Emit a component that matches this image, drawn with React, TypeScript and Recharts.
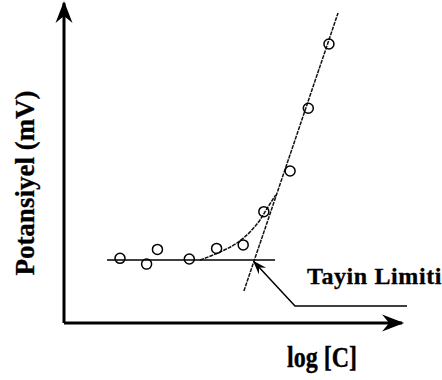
import React from "react";
import { ComposedChart, Line, Scatter, XAxis, YAxis } from "recharts";

// measured points (log C vs potential, arbitrary units 0..10)
const pointX = [1.6, 2.36, 2.67, 3.58, 4.36, 5.12, 5.71, 6.46, 6.98, 7.57];
const pointY = [2.02, 1.84, 2.3, 2.0, 2.33, 2.44, 3.48, 4.75, 6.71, 8.72];

// horizontal baseline
const baseX = [1.23, 6.03];
const baseY = [1.97, 1.97];

// steep linear part
const slopeX = [5.14, 7.83];
const slopeY = [1.0, 9.69];

// bend between baseline and linear part
const curveX = [3.89, 4.46, 4.94, 5.31, 5.6, 5.83, 6.05];
const curveY = [1.97, 2.22, 2.5, 2.84, 3.22, 3.63, 4.0];

// leader arrow to "Tayin Limiti"
const leaderX = [9.8, 6.6, 5.42];
const leaderY = [0.53, 0.53, 1.92];

// axes
const xAxisX = [0, 9.66];
const xAxisY = [0, 0];
const yAxisX = [0, 0];
const yAxisY = [0, 10];

const toRows = (xs: number[], ys: number[]) => xs.map((x, i) => ({ x, y: ys[i] }));

const points = toRows(pointX, pointY);
const baseline = toRows(baseX, baseY);
const slope = toRows(slopeX, slopeY);
const curve = toRows(curveX, curveY);
const leader = toRows(leaderX, leaderY);
const xAxisLine = toRows(xAxisX, xAxisY);
const yAxisLine = toRows(yAxisX, yAxisY);

const font = "'Liberation Serif', 'Times New Roman', serif";

const Ring = (props: any) => (
  <circle cx={props.cx} cy={props.cy} r={5} fill="none" stroke="#000" strokeWidth={1.5} />
);

export default function App() {
  return (
    <div style={{ position: "absolute", left: 0, top: 0, width: 442, height: 380, background: "#fff" }}>
      <svg width={0} height={0} style={{ position: "absolute" }}>
        <defs>
          <marker id="bigHead" markerUnits="userSpaceOnUse" markerWidth={26} markerHeight={22}
            viewBox="-22 -11 26 22" refX={0} refY={0} orient="auto">
            <path d="M2,0 L-20,-8.5 L-13,0 L-20,8.5 Z" fill="#000" />
          </marker>
          <marker id="smallHead" markerUnits="userSpaceOnUse" markerWidth={18} markerHeight={14}
            viewBox="-15 -7 18 14" refX={0} refY={0} orient="auto">
            <path d="M1,0 L-13,-5 L-8,0 L-13,5 Z" fill="#000" />
          </marker>
        </defs>
      </svg>
      <ComposedChart width={442} height={380} margin={{ top: 3, right: 28, bottom: 57, left: 64 }}>
        <XAxis type="number" dataKey="x" domain={[0, 10]} hide />
        <YAxis type="number" dataKey="y" domain={[0, 10]} hide />
        <Line data={xAxisLine} dataKey="y" stroke="#000" strokeWidth={3} dot={false}
          markerEnd="url(#bigHead)" isAnimationActive={false} />
        <Line data={yAxisLine} dataKey="y" stroke="#000" strokeWidth={3} dot={false}
          markerEnd="url(#bigHead)" isAnimationActive={false} />
        <Line data={baseline} dataKey="y" stroke="#000" strokeWidth={1.5} dot={false} isAnimationActive={false} />
        <Line data={slope} dataKey="y" stroke="#111" strokeWidth={1.5} strokeDasharray="4 1"
          dot={false} isAnimationActive={false} />
        <Line data={curve} dataKey="y" type="monotone" stroke="#111" strokeWidth={1.5}
          strokeDasharray="4 1" dot={false} isAnimationActive={false} />
        <Line data={leader} dataKey="y" stroke="#000" strokeWidth={1.5} dot={false}
          markerEnd="url(#smallHead)" isAnimationActive={false} />
        <Scatter data={points} dataKey="y" shape={Ring} isAnimationActive={false} />
      </ComposedChart>
      <svg width={442} height={380} style={{ position: "absolute", left: 0, top: 0, pointerEvents: "none" }}>
        <text x={307} y={284} fontFamily={font} fontWeight="bold" fontSize={24} letterSpacing={0.6}
          fill="#000" stroke="#000" strokeWidth={0.3}>
          Tayin Limiti
        </text>
        <text transform="translate(322,367) scale(1,1.2)" textAnchor="middle" fontFamily={font}
          fontWeight="bold" fontSize={24} fill="#000" stroke="#000" strokeWidth={0.3}>
          log [C]
        </text>
        <text transform="translate(34,183) rotate(-90)" textAnchor="middle" fontFamily={font}
          fontWeight="bold" fontSize={27} fill="#000" stroke="#000" strokeWidth={0.3}>
          Potansiyel (mV)
        </text>
      </svg>
    </div>
  );
}
